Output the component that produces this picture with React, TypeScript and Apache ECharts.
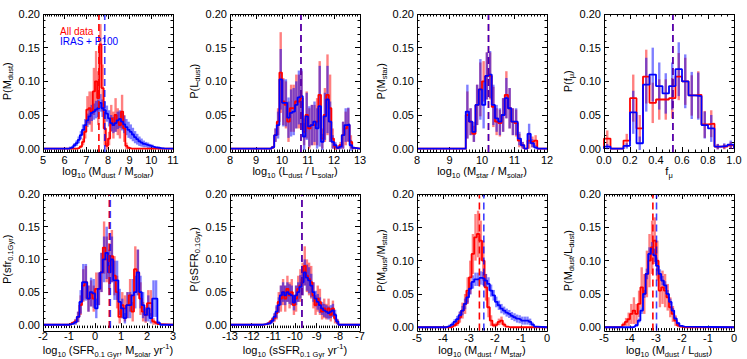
import React, { useEffect, useRef } from 'react';
import * as echarts from 'echarts';

const FONT = '"Liberation Sans", Arial, Helvetica, sans-serif';
const RED = '#ff0000';
const BLUE = '#0000ff';

const Y_MAX = 0.2;
const Y_STEP = 0.05;
const Y_FLOOR = -0.005;

// ---------- Panel 1: M_dust (bins of 0.1 from 6.2) ----------
const p1Start = 6.2;
const p1Width = 0.1;
const p1Red = [0, 0, 0, 0, 0.001, 0.003, 0.01, 0.025, 0.058, 0.06, 0.055, 0.085, 0.1, 0.075, 0.155, 0.09, 0.03, 0.004, 0.015, 0.045, 0.035, 0.05, 0.04, 0.035, 0.055, 0.03, 0.004, 0.001, 0, 0, 0, 0, 0, 0, 0, 0, 0, 0, 0, 0, 0, 0, 0, 0];
const p1Blue = [0.001, 0.002, 0.005, 0.008, 0.013, 0.02, 0.028, 0.035, 0.042, 0.048, 0.053, 0.055, 0.058, 0.06, 0.068, 0.06, 0.057, 0.052, 0.045, 0.038, 0.035, 0.038, 0.042, 0.044, 0.04, 0.036, 0.032, 0.028, 0.025, 0.021, 0.017, 0.014, 0.011, 0.009, 0.007, 0.006, 0.005, 0.004, 0.003, 0.002, 0.0015, 0.001, 0.0005, 0.0003];
const p1RedErr = [0, 0, 0, 0, 0.001, 0.002, 0.005, 0.01, 0.02, 0.025, 0.03, 0.035, 0.045, 0.04, 0.03, 0.035, 0.025, 0.005, 0.01, 0.02, 0.02, 0.025, 0.02, 0.02, 0.025, 0.02, 0.005, 0.002];
const p1BlueErr = [0.002, 0.002, 0.003, 0.004, 0.005, 0.006, 0.008, 0.009, 0.01, 0.011, 0.012, 0.012, 0.013, 0.013, 0.013, 0.013, 0.013, 0.012, 0.012, 0.012, 0.012, 0.013, 0.013, 0.013, 0.013, 0.013, 0.012, 0.012, 0.011, 0.01, 0.009, 0.008, 0.007, 0.006, 0.005, 0.004, 0.004, 0.003, 0.003, 0.002, 0.002, 0.002, 0.001, 0.001];
const p1RedMedian = 7.58;
const p1BlueMedian = 7.85;

// ---------- Panel 2: L_dust (bins of 0.1 from 9.6) ----------
const p2Start = 9.6;
const p2Width = 0.1;
const p2Red = [0.002, 0.02, 0.04, 0.113, 0.07, 0.065, 0.04, 0.06, 0.06, 0.07, 0.07, 0.075, 0.025, 0.05, 0.03, 0.035, 0.035, 0.04, 0.08, 0.015, 0.05, 0.08, 0.06, 0.015, 0.003, 0.001, 0.005, 0.02, 0.03, 0.035, 0.01, 0.001];
const p2Blue = [0.002, 0.02, 0.035, 0.103, 0.068, 0.068, 0.046, 0.053, 0.055, 0.065, 0.076, 0.078, 0.018, 0.048, 0.033, 0.035, 0.04, 0.03, 0.063, 0.01, 0.048, 0.073, 0.04, 0.01, 0.005, 0.001, 0.003, 0.02, 0.035, 0.036, 0.005, 0.001];
const p2RedErr = [0.002, 0.01, 0.02, 0.06, 0.035, 0.035, 0.03, 0.035, 0.035, 0.04, 0.04, 0.04, 0.02, 0.035, 0.03, 0.03, 0.03, 0.035, 0.05, 0.015, 0.04, 0.06, 0.05, 0.015, 0.005, 0.002, 0.005, 0.02, 0.025, 0.025, 0.01, 0.002];
const p2BlueErr = [0.002, 0.01, 0.02, 0.045, 0.035, 0.035, 0.03, 0.035, 0.035, 0.035, 0.04, 0.04, 0.02, 0.035, 0.03, 0.03, 0.03, 0.03, 0.06, 0.012, 0.035, 0.05, 0.03, 0.01, 0.005, 0.002, 0.004, 0.02, 0.025, 0.025, 0.008, 0.002];
const p2RedMedian = 10.73;
const p2BlueMedian = 10.73;

// ---------- Panel 3: M_star (bins of 0.1 from 9.5) ----------
const p3Start = 9.5;
const p3Width = 0.1;
const p3Red = [0.05, 0.04, 0.022, 0.065, 0.088, 0.1, 0.108, 0.108, 0.062, 0.04, 0.038, 0.05, 0.08, 0.06, 0.04, 0.038, 0.012, 0.005, 0, 0.012, 0.01, 0.012];
const p3Blue = [0.055, 0.04, 0.025, 0.065, 0.088, 0.065, 0.108, 0.11, 0.065, 0.045, 0.04, 0.05, 0.075, 0.06, 0.04, 0.04, 0.015, 0.005, 0, 0.022, 0.008, 0.002];
const p3RedErr = [0.035, 0.02, 0.012, 0.03, 0.04, 0.03, 0.035, 0.035, 0.03, 0.02, 0.02, 0.025, 0.035, 0.03, 0.02, 0.02, 0.01, 0.005, 0, 0.012, 0.008, 0.008];
const p3BlueErr = [0.04, 0.02, 0.015, 0.03, 0.045, 0.035, 0.035, 0.035, 0.03, 0.02, 0.02, 0.025, 0.03, 0.03, 0.02, 0.02, 0.01, 0.005, 0, 0.015, 0.006, 0.003];
const p3RedMedian = 10.2;
const p3BlueMedian = 10.2;

// ---------- Panel 4: f_mu (bins of 0.05 from 0) ----------
const p4Start = 0;
const p4Width = 0.05;
const p4Red = [0.015, 0, 0, 0.012, 0.075, 0.03, 0.107, 0.068, 0.073, 0.073, 0.075, 0.107, 0.1, 0.079, 0.08, 0.036, 0.037, 0.003, 0.003, 0.005];
const p4Blue = [0.003, 0, 0, 0.004, 0.054, 0.008, 0.095, 0.11, 0.093, 0.082, 0.093, 0.118, 0.1, 0.079, 0.078, 0.035, 0.03, 0.003, 0.004, 0.006];
const p4RedErr = [0.012, 0, 0, 0.01, 0.035, 0.02, 0.04, 0.03, 0.03, 0.03, 0.03, 0.035, 0.035, 0.03, 0.035, 0.02, 0.02, 0.004, 0.004, 0.005];
const p4BlueErr = [0.004, 0, 0, 0.004, 0.032, 0.01, 0.04, 0.04, 0.035, 0.03, 0.035, 0.04, 0.04, 0.035, 0.035, 0.02, 0.02, 0.004, 0.004, 0.006];
const p4RedMedian = 0.53;
const p4BlueMedian = 0.53;

// ---------- Panel 5: SFR (bins of 0.1 from -1.0) ----------
const p5Start = -1.0;
const p5Width = 0.1;
const p5Red = [0.001, 0.003, 0.005, 0.012, 0.03, 0.06, 0.065, 0.04, 0.048, 0.04, 0.055, 0.055, 0.08, 0.118, 0.1, 0.09, 0.105, 0.075, 0.05, 0.012, 0.03, 0.025, 0.03, 0.045, 0.02, 0.085, 0.08, 0.04, 0.02, 0.015, 0.033, 0.033, 0.005, 0.003, 0.001];
const p5Blue = [0.001, 0.002, 0.004, 0.012, 0.035, 0.065, 0.065, 0.04, 0.05, 0.048, 0.025, 0.055, 0.08, 0.1, 0.11, 0.08, 0.1, 0.068, 0.068, 0.035, 0.025, 0.01, 0.03, 0.03, 0.045, 0.05, 0.08, 0.05, 0.03, 0.015, 0.025, 0.01, 0.04, 0.04, 0.003];
const p5RedErr = [0.001, 0.002, 0.004, 0.008, 0.015, 0.025, 0.025, 0.02, 0.02, 0.02, 0.025, 0.025, 0.03, 0.04, 0.035, 0.035, 0.04, 0.03, 0.025, 0.01, 0.02, 0.02, 0.02, 0.025, 0.015, 0.035, 0.035, 0.025, 0.015, 0.012, 0.02, 0.02, 0.005, 0.003, 0.001];
const p5BlueErr = [0.001, 0.002, 0.004, 0.008, 0.018, 0.028, 0.028, 0.02, 0.022, 0.022, 0.015, 0.025, 0.03, 0.035, 0.04, 0.035, 0.035, 0.03, 0.03, 0.02, 0.015, 0.008, 0.02, 0.02, 0.025, 0.025, 0.035, 0.025, 0.02, 0.01, 0.02, 0.008, 0.028, 0.028, 0.003];
const p5RedMedian = 0.55;
const p5BlueMedian = 0.59;

// ---------- Panel 6: sSFR (bins of 0.1 from -11.5) ----------
const p6Start = -11.5;
const p6Width = 0.1;
const p6Red = [0.0003, 0.001, 0.002, 0.004, 0.007, 0.01, 0.018, 0.035, 0.04, 0.05, 0.04, 0.055, 0.045, 0.05, 0.03, 0.04, 0.055, 0.06, 0.07, 0.09, 0.075, 0.07, 0.065, 0.045, 0.03, 0.04, 0.035, 0.02, 0.025, 0.02, 0.025, 0.015, 0.025, 0.01, 0.005];
const p6Blue = [0.0005, 0.001, 0.002, 0.003, 0.006, 0.012, 0.02, 0.03, 0.045, 0.05, 0.045, 0.05, 0.047, 0.045, 0.034, 0.045, 0.05, 0.058, 0.065, 0.08, 0.072, 0.068, 0.06, 0.05, 0.04, 0.035, 0.03, 0.025, 0.022, 0.02, 0.018, 0.02, 0.022, 0.015, 0.005];
const p6RedErr = [0.0003, 0.001, 0.002, 0.003, 0.004, 0.006, 0.01, 0.015, 0.02, 0.02, 0.02, 0.02, 0.02, 0.02, 0.015, 0.02, 0.02, 0.025, 0.025, 0.03, 0.025, 0.025, 0.025, 0.02, 0.015, 0.02, 0.02, 0.012, 0.015, 0.012, 0.015, 0.01, 0.012, 0.008, 0.004];
const p6BlueErr = [0.0003, 0.001, 0.002, 0.003, 0.004, 0.006, 0.01, 0.012, 0.015, 0.015, 0.015, 0.015, 0.015, 0.015, 0.012, 0.015, 0.015, 0.018, 0.02, 0.02, 0.02, 0.02, 0.018, 0.015, 0.012, 0.012, 0.012, 0.01, 0.01, 0.01, 0.01, 0.01, 0.01, 0.008, 0.004];
const p6RedMedian = -9.68;
const p6BlueMedian = -9.68;

// ---------- Panel 7: M_dust / M_star (bins of 0.1 from -3.9) ----------
const p7Start = -3.9;
const p7Width = 0.1;
const p7Red = [0, 0, 0.001, 0.003, 0.006, 0.015, 0.025, 0.035, 0.055, 0.075, 0.11, 0.135, 0.14, 0.13, 0.1, 0.06, 0.03, 0.01, 0.003, 0.004, 0.008, 0.01, 0.004, 0.001, 0, 0, 0, 0, 0, 0, 0, 0, 0, 0, 0];
const p7Blue = [0.001, 0.002, 0.004, 0.008, 0.012, 0.018, 0.025, 0.035, 0.045, 0.058, 0.068, 0.072, 0.072, 0.074, 0.073, 0.07, 0.065, 0.055, 0.048, 0.038, 0.033, 0.028, 0.025, 0.022, 0.02, 0.017, 0.015, 0.013, 0.012, 0.01, 0.01, 0.01, 0.008, 0.004, 0.001];
const p7RedErr = [0, 0, 0.001, 0.002, 0.004, 0.008, 0.012, 0.015, 0.02, 0.025, 0.03, 0.035, 0.035, 0.03, 0.03, 0.02, 0.015, 0.008, 0.003, 0.003, 0.005, 0.006, 0.003, 0.001];
const p7BlueErr = [0.001, 0.002, 0.003, 0.004, 0.005, 0.006, 0.007, 0.008, 0.008, 0.009, 0.01, 0.01, 0.01, 0.01, 0.01, 0.01, 0.01, 0.009, 0.008, 0.008, 0.007, 0.007, 0.006, 0.006, 0.006, 0.006, 0.006, 0.006, 0.006, 0.006, 0.006, 0.006, 0.005, 0.003, 0.001];
const p7RedMedian = -2.6;
const p7BlueMedian = -2.43;

// ---------- Panel 8: M_dust / L_dust (bins of 0.1 from -4.4) ----------
const p8Start = -4.4;
const p8Width = 0.1;
const p8Red = [0.001, 0.004, 0.008, 0.012, 0.02, 0.025, 0.02, 0.035, 0.06, 0.05, 0.08, 0.1, 0.12, 0.13, 0.1, 0.055, 0.06, 0.055, 0.045, 0.03, 0.02, 0.01, 0.003, 0.001, 0];
const p8Blue = [0, 0, 0, 0, 0, 0.001, 0.003, 0.01, 0.025, 0.05, 0.08, 0.11, 0.118, 0.108, 0.092, 0.08, 0.07, 0.063, 0.05, 0.038, 0.025, 0.013, 0.006, 0.002, 0.001];
const p8RedErr = [0.001, 0.003, 0.006, 0.01, 0.015, 0.02, 0.015, 0.02, 0.03, 0.03, 0.035, 0.04, 0.04, 0.035, 0.03, 0.025, 0.025, 0.025, 0.02, 0.015, 0.012, 0.008, 0.003, 0.001, 0];
const p8BlueErr = [0, 0, 0, 0, 0, 0.001, 0.002, 0.003, 0.005, 0.006, 0.008, 0.01, 0.01, 0.01, 0.008, 0.007, 0.007, 0.006, 0.006, 0.005, 0.004, 0.003, 0.002, 0.001, 0.001];
const p8RedMedian = -3.12;
const p8BlueMedian = -2.98;

const LEGEND_LABELS = ['All data', 'IRAS + P100'];

const PANELS = [
  { xMin: 5, xMax: 11, xStep: 1, xMinor: 10, dec: 0, start: p1Start, width: p1Width, red: p1Red, blue: p1Blue, redErr: p1RedErr, blueErr: p1BlueErr, redMed: p1RedMedian, blueMed: p1BlueMedian, xName: 'log_{10} (M_{dust} / M_{solar})', yName: 'P(M_{dust})' },
  { xMin: 8, xMax: 13, xStep: 1, xMinor: 10, dec: 0, start: p2Start, width: p2Width, red: p2Red, blue: p2Blue, redErr: p2RedErr, blueErr: p2BlueErr, redMed: p2RedMedian, blueMed: p2BlueMedian, xName: 'log_{10} (L_{dust} / L_{solar})', yName: 'P(L_{dust})' },
  { xMin: 8, xMax: 12, xStep: 1, xMinor: 10, dec: 0, start: p3Start, width: p3Width, red: p3Red, blue: p3Blue, redErr: p3RedErr, blueErr: p3BlueErr, redMed: p3RedMedian, blueMed: p3BlueMedian, xName: 'log_{10} (M_{star} / M_{solar})', yName: 'P(M_{star})' },
  { xMin: 0, xMax: 1, xStep: 0.2, xMinor: 4, dec: 1, start: p4Start, width: p4Width, red: p4Red, blue: p4Blue, redErr: p4RedErr, blueErr: p4BlueErr, redMed: p4RedMedian, blueMed: p4BlueMedian, xName: 'f_{μ}', yName: 'P(f_{μ})' },
  { xMin: -2, xMax: 3, xStep: 1, xMinor: 10, dec: 0, start: p5Start, width: p5Width, red: p5Red, blue: p5Blue, redErr: p5RedErr, blueErr: p5BlueErr, redMed: p5RedMedian, blueMed: p5BlueMedian, xName: 'log_{10} (SFR_{0.1 Gyr}, M_{solar} yr^{-1})', yName: 'P(sfr_{0.1Gyr})' },
  { xMin: -13, xMax: -7, xStep: 1, xMinor: 10, dec: 0, start: p6Start, width: p6Width, red: p6Red, blue: p6Blue, redErr: p6RedErr, blueErr: p6BlueErr, redMed: p6RedMedian, blueMed: p6BlueMedian, xName: 'log_{10} (sSFR_{0.1 Gyr} yr^{-1})', yName: 'P(sSFR_{0.1Gyr})' },
  { xMin: -5, xMax: 0, xStep: 1, xMinor: 10, dec: 0, start: p7Start, width: p7Width, red: p7Red, blue: p7Blue, redErr: p7RedErr, blueErr: p7BlueErr, redMed: p7RedMedian, blueMed: p7BlueMedian, xName: 'log_{10} (M_{dust} / M_{star})', yName: 'P(M_{dust}/M_{star})' },
  { xMin: -5, xMax: 0, xStep: 1, xMinor: 10, dec: 0, start: p8Start, width: p8Width, red: p8Red, blue: p8Blue, redErr: p8RedErr, blueErr: p8BlueErr, redMed: p8RedMedian, blueMed: p8BlueMedian, xName: 'log_{10} (M_{dust} / L_{dust})', yName: 'P(M_{dust}/L_{dust})' },
];

// layout
const COL_LEFT = [43, 230, 417, 604];
const ROW_TOP = [14, 194];
const ROW_H = [138, 137];
const PANEL_W = 130;

const RICH = {
  n: { fontSize: 11, fontFamily: FONT, color: '#000', lineHeight: 16 },
  s: { fontSize: 7.5, fontFamily: FONT, color: '#000', verticalAlign: 'bottom' },
  p: { fontSize: 7.5, fontFamily: FONT, color: '#000', verticalAlign: 'top' },
};

function rich(s: string): string {
  let out = '';
  let buf = '';
  const flush = () => {
    if (buf) {
      out += `{n|${buf}}`;
      buf = '';
    }
  };
  let i = 0;
  while (i < s.length) {
    const c = s[i];
    if ((c === '_' || c === '^') && s[i + 1] === '{') {
      flush();
      const j = s.indexOf('}', i + 2);
      out += `{${c === '_' ? 's' : 'p'}|${s.slice(i + 2, j)}}`;
      i = j + 1;
    } else {
      buf += c;
      i++;
    }
  }
  flush();
  return out;
}

function stepPoints(start: number, width: number, vals: number[], xMin: number, xMax: number) {
  const pts: number[][] = [[xMin, 0], [start, 0]];
  vals.forEach((v, i) => {
    const lo = start + i * width;
    pts.push([lo, v], [lo + width, v]);
  });
  const end = start + vals.length * width;
  pts.push([end, 0], [xMax, 0]);
  return pts;
}

function errData(start: number, width: number, vals: number[], errs: number[]) {
  const out: number[][] = [];
  vals.forEach((v, i) => {
    const e = errs[i] ?? 0;
    if (e > 0) out.push([start + (i + 0.5) * width, v, e]);
  });
  return out;
}

function errSeries(data: number[][], color: string, xi: number, yi: number) {
  return {
    type: 'custom',
    xAxisIndex: xi,
    yAxisIndex: yi,
    clip: false,
    silent: true,
    encode: { x: 0, y: 1 },
    data,
    renderItem: (params: any, api: any) => {
      const x = api.value(0);
      const v = api.value(1);
      const e = api.value(2);
      const a = api.coord([x, v - e]);
      const b = api.coord([x, v + e]);
      return {
        type: 'line',
        shape: { x1: a[0], y1: a[1], x2: b[0], y2: b[1] },
        style: { stroke: color, lineWidth: 2.4, opacity: 0.5 },
      };
    },
  };
}

function buildOption() {
  const grid: any[] = [];
  const xAxis: any[] = [];
  const yAxis: any[] = [];
  const series: any[] = [];
  const graphic: any[] = [];
  const tick = { show: true, inside: true, length: 5, lineStyle: { color: '#000', width: 1 } };
  const minor = (n: number) => ({ show: true, splitNumber: n, length: 2.5, lineStyle: { color: '#000', width: 1 } });
  const labelStyle = { fontSize: 11, color: '#000', fontFamily: FONT };
  const noLine = { show: false, onZero: false };

  PANELS.forEach((p, i) => {
    const row = Math.floor(i / 4);
    const col = i % 4;
    const left = COL_LEFT[col];
    const top = ROW_TOP[row];
    const fh = ROW_H[row];
    const dh = (fh * Y_MAX) / (Y_MAX - Y_FLOOR);
    const below = fh - dh;
    grid.push({ left, top, width: PANEL_W, height: dh, containLabel: false, show: false });
    graphic.push({
      type: 'rect',
      silent: true,
      z: 100,
      shape: { x: left + 0.5, y: top + 0.5, width: PANEL_W, height: fh },
      style: { fill: 'none', stroke: '#000', lineWidth: 1 },
    });
    const xBase = {
      gridIndex: i,
      type: 'value',
      min: p.xMin,
      max: p.xMax,
      interval: p.xStep,
      axisLine: noLine,
      splitLine: { show: false },
      minorSplitLine: { show: false },
      axisTick: tick,
      minorTick: minor(p.xMinor),
    };
    xAxis.push({
      ...xBase,
      position: 'bottom',
      offset: below,
      axisLabel: { ...labelStyle, margin: 2, formatter: (v: number) => v.toFixed(p.dec) },
      name: rich(p.xName),
      nameLocation: 'middle',
      nameGap: 11,
      nameTextStyle: { rich: RICH },
    });
    xAxis.push({ ...xBase, position: 'top', axisLabel: { show: false } });
    const yBase = {
      gridIndex: i,
      type: 'value',
      min: 0,
      max: Y_MAX,
      interval: Y_STEP,
      axisLine: noLine,
      splitLine: { show: false },
      minorSplitLine: { show: false },
      axisTick: tick,
      minorTick: minor(5),
    };
    yAxis.push({
      ...yBase,
      position: 'left',
      axisLabel: { ...labelStyle, margin: 3, formatter: (v: number) => v.toFixed(2) },
      name: rich(p.yName),
      nameLocation: 'middle',
      nameRotate: 90,
      nameGap: 27,
      nameTextStyle: { rich: RICH },
    });
    yAxis.push({ ...yBase, position: 'right', axisLabel: { show: false } });

    const xi = 2 * i;
    const yi = 2 * i;
    series.push(errSeries(errData(p.start, p.width, p.red, p.redErr), RED, xi, yi));
    series.push({
      type: 'line',
      xAxisIndex: xi,
      yAxisIndex: yi,
      data: stepPoints(p.start, p.width, p.red, p.xMin, p.xMax),
      symbol: 'none',
      clip: false,
      silent: true,
      lineStyle: { color: RED, width: 1.8 },
    });
    series.push(errSeries(errData(p.start, p.width, p.blue, p.blueErr), BLUE, xi, yi));
    series.push({
      type: 'line',
      xAxisIndex: xi,
      yAxisIndex: yi,
      data: stepPoints(p.start, p.width, p.blue, p.xMin, p.xMax),
      symbol: 'none',
      clip: false,
      silent: true,
      lineStyle: { color: BLUE, width: 1.8 },
    });
    series.push({
      type: 'line',
      xAxisIndex: xi,
      yAxisIndex: yi,
      data: [[p.redMed, Y_FLOOR], [p.redMed, Y_MAX]],
      symbol: 'none',
      clip: false,
      silent: true,
      lineStyle: { color: RED, width: 1.6, type: [7, 4] },
    });
    series.push({
      type: 'line',
      xAxisIndex: xi,
      yAxisIndex: yi,
      data: [[p.blueMed, Y_FLOOR], [p.blueMed, Y_MAX]],
      symbol: 'none',
      clip: false,
      silent: true,
      lineStyle: { color: BLUE, width: 1.6, type: [7, 4], opacity: 0.75 },
    });
  });

  graphic.push({
    type: 'text',
    x: 60,
    y: 31,
    silent: true,
    z: 101,
    style: { text: LEGEND_LABELS[0], fill: RED, fontSize: 10, fontFamily: FONT, verticalAlign: 'middle' },
  });
  graphic.push({
    type: 'text',
    x: 60,
    y: 41,
    silent: true,
    z: 101,
    style: { text: LEGEND_LABELS[1], fill: BLUE, fontSize: 10, fontFamily: FONT, verticalAlign: 'middle' },
  });

  return {
    animation: false,
    backgroundColor: '#ffffff',
    grid,
    xAxis,
    yAxis,
    series,
    graphic,
  };
}

export default function App() {
  const ref = useRef<HTMLDivElement>(null);
  useEffect(() => {
    if (!ref.current) return;
    const chart = echarts.init(ref.current, null, { renderer: 'svg' });
    chart.setOption(buildOption() as any);
    return () => chart.dispose();
  }, []);
  return (
    <div
      ref={ref}
      style={{ position: 'fixed', left: 0, top: 0, width: 747, height: 359, background: '#fff' }}
    />
  );
}
